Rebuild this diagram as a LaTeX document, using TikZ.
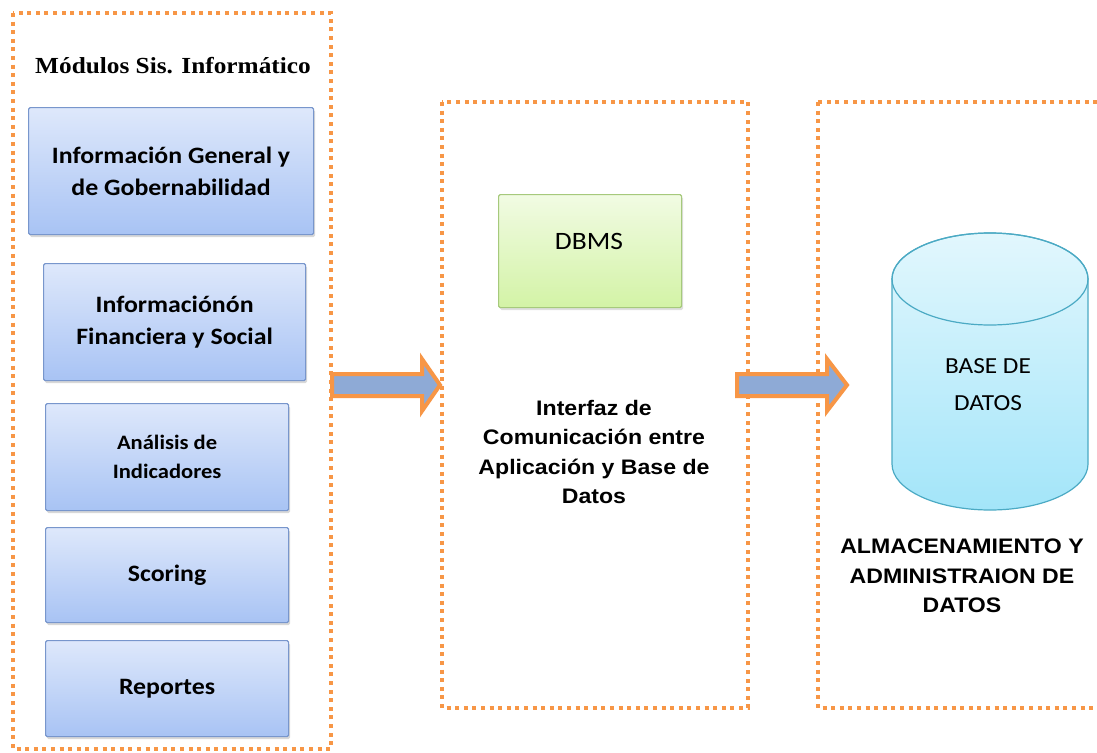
\documentclass[tikz,border=0pt]{standalone}
\usepackage{fontspec}
\setmainfont[FakeStretch=1.1]{Carlito}
\newfontfamily\serifb[FakeStretch=1.1]{Liberation Serif}
\newfontfamily\arialf[FakeStretch=1.1]{Liberation Sans}
\usetikzlibrary{shadows}
\definecolor{dotor}{HTML}{F79646}
\definecolor{modtop}{HTML}{DEE8FB}
\definecolor{modbot}{HTML}{A8C3F4}
\definecolor{modline}{HTML}{7896CC}
\definecolor{gtop}{HTML}{F1FBE3}
\definecolor{gbot}{HTML}{D3F3A6}
\definecolor{gline}{HTML}{A6C97C}
\definecolor{ctop}{HTML}{E2F7FD}
\definecolor{cbot}{HTML}{A3E5F9}
\definecolor{cline}{HTML}{4BAAC4}
\definecolor{arrfill}{HTML}{8EAAD6}
\tikzset{
  dotbox/.style={draw=dotor, line width=4, dash pattern=on 4 off 4.6},
  modbox/.style={draw=modline, line width=1.2, top color=modtop, bottom color=modbot, rounded corners=1.5pt,
    drop shadow={opacity=0.3, shadow xshift=1.5pt, shadow yshift=-2.5pt},
    anchor=north west, inner sep=0, align=center, font=\bfseries\fontsize{23.5}{32}\selectfont},
  dbmsbox/.style={draw=gline, line width=1.2, top color=gtop, bottom color=gbot, rounded corners=1.5pt,
    drop shadow={opacity=0.25, shadow xshift=1.5pt, shadow yshift=-2.5pt},
    anchor=north west, inner sep=0, align=center},
  blockarr/.style={draw=dotor, line width=4, fill=arrfill, line join=miter},
  boldlabel/.style={align=center, font=\arialf\bfseries\fontsize{21}{29.5}\selectfont}
}
\begin{document}
\begin{tikzpicture}[x=1pt,y=-1pt]
\useasboundingbox[fill=white] (0,0) rectangle (1097,752);
% dotted containers
\draw[dotbox] (13,13) rectangle (331,749);
\draw[dotbox] (442,102) rectangle (748,708);
\draw[dotbox] (818,102) rectangle (1130,708);
% title
\node[font=\serifb\bfseries\fontsize{23}{28}\selectfont] (title) at (173,66) {Módulos Sis. Informático};
% module boxes
\node[modbox, minimum width=285, minimum height=127] (m1) at (28,107) {Información General y\\de Gobernabilidad};
\node[modbox, minimum width=262, minimum height=117] (m2) at (43,263) {Informaciónón\\Financiera y Social};
\node[modbox, minimum width=243, minimum height=107, font=\bfseries\fontsize{20.5}{29}\selectfont] (m3) at (45,403) {Análisis de\\Indicadores};
\node[modbox, minimum width=243, minimum height=95] (m4) at (45,527) {Scoring};
\node[modbox, minimum width=243, minimum height=96] (m5) at (45,640) {Reportes};
% DBMS
\node[dbmsbox, minimum width=183, minimum height=113] (dbms) at (498,194) {};
\node[font=\fontsize{25}{30}\selectfont] (dbmst) at (589,241) {DBMS};
% middle text
\node[boldlabel] (iface) at (594,452) {Interfaz de\\Comunicación entre\\Aplicación y Base de\\Datos};
% cylinder
\path[top color=ctop, bottom color=cbot, draw=cline, line width=1.2]
  (892,279) -- (892,464) arc[start angle=180, end angle=0, x radius=98, y radius=46]
  -- (1088,279) arc[start angle=0, end angle=-180, x radius=98, y radius=46] -- cycle;
\draw[cline, line width=1.2] (990,279) ellipse[x radius=98, y radius=46];
\node[align=center, font=\fontsize{23}{37}\selectfont] (db) at (988,385) {BASE DE\\DATOS};
% lower label
\node[boldlabel] (alm) at (962,576) {ALMACENAMIENTO Y\\ADMINISTRAION DE\\DATOS};
% block arrows
\draw[blockarr] (332,374) -- (422,374) -- (422,359) -- (440,385) -- (422,411) -- (422,396) -- (332,396) -- cycle;
\draw[blockarr] (737,374) -- (827,374) -- (827,359) -- (847,385) -- (827,411) -- (827,396) -- (737,396) -- cycle;
\end{tikzpicture}
\end{document}
